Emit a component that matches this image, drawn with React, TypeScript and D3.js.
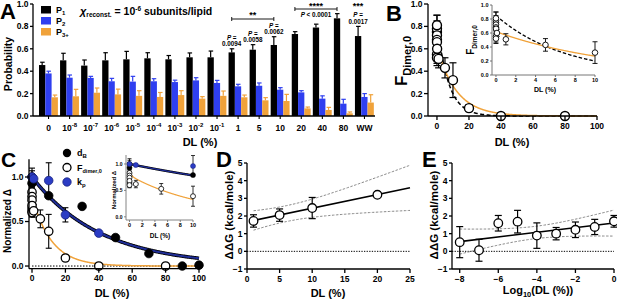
import React from "react";
import * as d3 from "d3";

const FONT = "'Liberation Sans', Arial, Helvetica, sans-serif";
const BLUE = "#2f3ff0";
const ORANGE = "#f0a23a";
const CBLUE = "#2b3cc4";
const NAVY = "#1f2d96";

// ---------------- Panel A data ----------------
const aCategories = ["0", "10^-8", "10^-7", "10^-6", "10^-5", "10^-4", "10^-3", "10^-2", "10^-1", "1", "5", "10", "20", "40", "80", "WW"];
const aP1 = [0.455, 0.497, 0.45, 0.497, 0.506, 0.515, 0.506, 0.524, 0.524, 0.568, 0.592, 0.634, 0.732, 0.79, 0.872, 0.714];
const aP1Err = [0.025, 0.063, 0.05, 0.068, 0.071, 0.05, 0.034, 0.039, 0.056, 0.032, 0.045, 0.074, 0.021, 0.03, 0.042, 0.086];
const aP2 = [0.38, 0.342, 0.34, 0.31, 0.307, 0.31, 0.303, 0.318, 0.295, 0.265, 0.27, 0.235, 0.211, 0.155, 0.11, 0.17];
const aP2Err = [0.02, 0.024, 0.014, 0.026, 0.047, 0.023, 0.017, 0.024, 0.023, 0.018, 0.025, 0.018, 0.015, 0.025, 0.039, 0.03];
const aP3 = [0.167, 0.176, 0.208, 0.193, 0.18, 0.17, 0.187, 0.155, 0.18, 0.167, 0.14, 0.134, 0.068, 0.054, 0.024, 0.12];
const aP3Err = [0.02, 0.062, 0.042, 0.047, 0.046, 0.04, 0.039, 0.018, 0.043, 0.02, 0.024, 0.059, 0.012, 0.023, 0.012, 0.07];
const aYTicks = [0, 0.2, 0.4, 0.6, 0.8, 1.0];
const aPValueCats = ["1", "5", "10"];
const aPValues = ["0.0094", "0.0058", "0.0062"];

// ---------------- Panel B data ----------------
const bDL = [0, 1e-8, 1e-7, 1e-6, 1e-5, 1e-4, 1e-3, 1e-2, 1e-1, 1, 5, 10, 20, 40, 80];
const bF = [0.75, 0.78, 0.81, 0.55, 0.52, 0.72, 0.68, 0.66, 0.6, 0.51, 0.43, 0.32, 0.07, 0.0, 0.0];
const bFErr = [0.1, 0.12, 0.09, 0.08, 0.07, 0.06, 0.05, 0.06, 0.05, 0.08, 0.09, 0.155, 0.03, 0, 0];
const bXTicks = [0, 20, 40, 60, 80, 100];
const bYTicks = [0, 0.2, 0.4, 0.6, 0.8, 1.0];
const bInsetXTicks = [0, 2, 4, 6, 8, 10];
const bSingleFit = { amp: 0.85, tau: 6.9 };
const bDoubleFit = { ampFast: 0.2, tauFast: 0.05, ampSlow: 0.62, tauSlow: 12 };

// ---------------- Panel C data ----------------
const cDbX = [0, 0, 0, 0, 10, 30, 50, 70, 90, 100];
const cDbY = [1.0, 0.93, 0.65, 0.62, 0.79, 0.67, 0.32, 0.14, 0.0, 0.01];
const cDbErr = [0.1, 0.1, 0.05, 0.06, 0, 0, 0, 0, 0, 0];
const cFX = [0, 0, 0, 0, 0, 1, 5, 10, 20, 40, 80];
const cFY = [0.83, 0.78, 0.74, 0.68, 0.6, 0.62, 0.53, 0.39, 0.09, 0.0, 0.0];
const cFErr = [0.05, 0.06, 0.05, 0.06, 0.05, 0.07, 0.1, 0.19, 0.03, 0, 0];
const cKpX = [0, 1, 10, 20, 40];
const cKpY = [1.0, 0.98, 0.96, 0.575, 0.37];
const cKpErr = [0.07, 0.03, 0.2, 0.08, 0.02];
const cXTicks = [0, 20, 40, 60, 80, 100];
const cYTicks = [0, 0.5, 1.0];
const cInsetXTicks = [0, 2, 4, 6, 8, 10];
const cBlueFit = { amp: 1.0, tau: 41 };
const cOrangeFit = { ampFast: 0.07, tauFast: 0.3, ampSlow: 0.785, tauSlow: 11.5 };

// ---------------- Panel D data ----------------
const dX = [1, 5, 10, 20];
const dY = [1.72, 2.05, 2.45, 3.2];
const dErr = [0.35, 0.35, 0.6, 0.05];
const dXTicks = [0, 5, 10, 15, 20, 25];
const dYTicks = [-1, 0, 1, 2, 3, 4, 5];
const dFit = { slope: 0.077, intercept: 1.67, xm: 6, a: 0.45, b: 0.063 };

// ---------------- Panel E data ----------------
const eX = [-8, -7, -6, -5, -4, -3, -2, -1, 0];
const eY = [0.52, 0.06, 1.59, 1.68, 0.89, 1.0, 1.22, 1.38, 1.7];
const eErr = [0.88, 0.62, 0.44, 0.64, 0.72, 0.35, 0.44, 0.43, 0.33];
const eXTicks = [-8, -6, -4, -2, 0];
const eYTicks = [-1, 0, 1, 2, 3, 4, 5];
const eFit = { slope: 0.131, intercept: 1.6, xm: -4.1, a: 0.35, b: 0.158 };

// ---------------- helpers ----------------
const sampleX = (x0: number, x1: number, n: number, pow = 1) =>
  d3.range(n + 1).map((i) => x0 + (x1 - x0) * Math.pow(i / n, pow));

function SupText({ label, fs, supFs }: { label: string; fs: number; supFs: number }) {
  if (label.includes("^")) {
    const [base, exp] = label.split("^");
    return (
      <>
        <tspan fontSize={fs}>{base}</tspan>
        <tspan fontSize={supFs} dy={-4}>{exp}</tspan>
      </>
    );
  }
  return <tspan fontSize={fs}>{label}</tspan>;
}

function YAxis({ scale, x, ticks, fmt, fs = 8.5, tl = 3, color = "#000", sw = 1.3, textColor = "#000" }: any) {
  const [r0, r1] = scale.range();
  return (
    <g>
      <line x1={x} x2={x} y1={r0} y2={r1} stroke={color} strokeWidth={sw} />
      {ticks.map((t: number) => (
        <g key={t}>
          <line x1={x - tl} x2={x} y1={scale(t)} y2={scale(t)} stroke={color} strokeWidth={sw} />
          <text x={x - tl - 1.5} y={scale(t)} dy="0.35em" textAnchor="end" fontSize={fs} fontWeight="bold" fill={textColor}>
            {fmt(t)}
          </text>
        </g>
      ))}
    </g>
  );
}

function XAxis({ scale, y, ticks, fmt, fs = 8.5, tl = 3, color = "#000", sw = 1.3, gap = 3, textColor = "#000" }: any) {
  const [r0, r1] = scale.range();
  return (
    <g>
      <line x1={r0} x2={r1} y1={y} y2={y} stroke={color} strokeWidth={sw} />
      {ticks.map((t: number) => (
        <g key={t}>
          <line x1={scale(t)} x2={scale(t)} y1={y} y2={y + tl} stroke={color} strokeWidth={sw} />
          <text x={scale(t)} y={y + tl + gap} dy="0.71em" textAnchor="middle" fontSize={fs} fontWeight="bold" fill={textColor}>
            {fmt(t)}
          </text>
        </g>
      ))}
    </g>
  );
}

function ErrBars({ xs, ys, errs, xS, yS, cap = 3, color = "#000", sw = 1 }: any) {
  return (
    <g>
      {xs.map((x: number, i: number) =>
        errs[i] > 0 ? (
          <g key={i} stroke={color} strokeWidth={sw}>
            <line x1={xS(x)} x2={xS(x)} y1={yS(ys[i] - errs[i])} y2={yS(ys[i] + errs[i])} />
            <line x1={xS(x) - cap} x2={xS(x) + cap} y1={yS(ys[i] + errs[i])} y2={yS(ys[i] + errs[i])} />
            <line x1={xS(x) - cap} x2={xS(x) + cap} y1={yS(ys[i] - errs[i])} y2={yS(ys[i] - errs[i])} />
          </g>
        ) : null
      )}
    </g>
  );
}

function Dots({ xs, ys, xS, yS, r, fill, stroke = "#000", sw = 1.2 }: any) {
  return (
    <g>
      {xs.map((x: number, i: number) => (
        <circle key={i} cx={xS(x)} cy={yS(ys[i])} r={r} fill={fill} stroke={stroke} strokeWidth={sw} />
      ))}
    </g>
  );
}

const f1 = d3.format(".1f");
const f0 = d3.format("d");

// ---------------- Panel A ----------------
function PanelA() {
  const x = d3.scaleBand<string>().domain(aCategories).range([38, 375]).padding(0);
  const y = d3.scaleLinear().domain([0, 1]).range([116, 4]);
  const bw = 6.3;
  const series = [
    { vals: aP1, errs: aP1Err, color: "#000" },
    { vals: aP2, errs: aP2Err, color: BLUE },
    { vals: aP3, errs: aP3Err, color: ORANGE },
  ];
  const barX = (c: string, k: number) => (x(c) as number) + 1 + k * bw;
  const cx = (c: string) => barX(c, 0) + bw / 2;
  return (
    <g>
      {series.map((s, k) =>
        aCategories.map((c, i) => (
          <g key={`${k}-${i}`}>
            <line x1={barX(c, k) + bw / 2} x2={barX(c, k) + bw / 2} y1={y(s.vals[i])} y2={y(s.vals[i] + s.errs[i])} stroke={s.color} strokeWidth={1.2} />
            <line x1={barX(c, k) + bw / 2 - 2} x2={barX(c, k) + bw / 2 + 2.5} y1={y(s.vals[i] + s.errs[i])} y2={y(s.vals[i] + s.errs[i])} stroke={s.color} strokeWidth={1.2} />
            <rect x={barX(c, k)} y={y(s.vals[i])} width={bw} height={y(0) - y(s.vals[i])} fill={s.color} />
          </g>
        ))
      )}
      <YAxis scale={y} x={33} ticks={aYTicks} fmt={f1} />
      <line x1={33} x2={375} y1={116} y2={116} stroke="#000" strokeWidth={1.3} />
      {aCategories.map((c) => (
        <g key={c}>
          <line x1={(x(c) as number) + x.bandwidth() / 2} x2={(x(c) as number) + x.bandwidth() / 2} y1={116} y2={119} stroke="#000" strokeWidth={1.1} />
          <text x={(x(c) as number) + x.bandwidth() / 2} y={131} textAnchor="middle" fontWeight="bold">
            <SupText label={c} fs={8.5} supFs={6} />
          </text>
        </g>
      ))}
      <text x={200} y={146} textAnchor="middle" fontSize={11} fontWeight="bold">DL (%)</text>
      <text transform="translate(12,64) rotate(-90)" textAnchor="middle" fontSize={10.5} fontWeight="bold">Probability</text>
      {/* legend */}
      {[
        { c: "#000", s: "1" },
        { c: BLUE, s: "2" },
        { c: ORANGE, s: "3+" },
      ].map((l, i) => (
        <g key={i}>
          <rect x={41} y={6 + i * 11} width={10} height={7.5} fill={l.c} />
          <text x={56} y={13 + i * 11} fontSize={9} fontWeight="bold">
            P<tspan fontSize={6} dy={2}>{l.s}</tspan>
          </text>
        </g>
      ))}
      <text x={80} y={15} fontWeight="bold">
        <tspan fontSize={11} fontStyle="italic">χ</tspan>
        <tspan fontSize={6.5} dy={2}>reconst.</tspan>
        <tspan fontSize={10.5} dy={-2}> = 10</tspan>
        <tspan fontSize={6.5} dy={-4}>-6</tspan>
        <tspan fontSize={10.5} dy={4}> subunits/lipid</tspan>
      </text>
      {/* P value annotations */}
      {aPValueCats.map((c, j) => {
        const i = aCategories.indexOf(c);
        const top = y(aP1[i] + aP1Err[i]);
        return (
          <g key={c} fontSize={6.3} fontWeight="bold" textAnchor="middle">
            <text x={cx(c)} y={top - 9}><tspan fontStyle="italic">P</tspan> =</text>
            <text x={cx(c)} y={top - 2.5}>{aPValues[j]}</text>
          </g>
        );
      })}
      {/* significance brackets */}
      <g stroke="#000" strokeWidth={0.9}>
        <line x1={cx("1")} x2={cx("10")} y1={19} y2={19} />
        <line x1={cx("1")} x2={cx("1")} y1={17} y2={21} />
        <line x1={cx("10")} x2={cx("10")} y1={17} y2={21} />
        <line x1={cx("20")} x2={cx("80")} y1={9} y2={9} />
        <line x1={cx("20")} x2={cx("20")} y1={7} y2={11} />
        <line x1={cx("80")} x2={cx("80")} y1={7} y2={11} />
      </g>
      <text x={(cx("1") + cx("10")) / 2} y={18} textAnchor="middle" fontSize={9} fontWeight="bold">**</text>
      <text x={(cx("20") + cx("80")) / 2} y={8.5} textAnchor="middle" fontSize={9} fontWeight="bold">****</text>
      <text x={(cx("20") + cx("80")) / 2} y={16.5} textAnchor="middle" fontSize={6.3} fontWeight="bold">
        <tspan fontStyle="italic">P</tspan> &lt; 0.0001
      </text>
      <text x={cx("WW")} y={9} textAnchor="middle" fontSize={9} fontWeight="bold">***</text>
      <text x={cx("WW")} y={16.5} textAnchor="middle" fontSize={6.3} fontWeight="bold"><tspan fontStyle="italic">P</tspan> =</text>
      <text x={cx("WW")} y={24} textAnchor="middle" fontSize={6.3} fontWeight="bold">0.0017</text>
      <text x={0} y={19} fontSize={22} fontWeight="bold">A</text>
    </g>
  );
}

// ---------------- Panel B ----------------
const single = (p: any) => (t: number) => p.amp * Math.exp(-t / p.tau);
const double = (p: any) => (t: number) => p.ampFast * Math.exp(-t / p.tauFast) + p.ampSlow * Math.exp(-t / p.tauSlow);

function PanelB() {
  const x = d3.scaleLinear().domain([-5.6, 100]).range([428, 597]);
  const y = d3.scaleLinear().domain([0, 1]).range([116, 4]);
  const sf = single(bSingleFit);
  const df = double(bDoubleFit);
  const xsMain = sampleX(0, 100, 400, 2);
  const line = (fn: any, xs: number[], xS: any, yS: any) => d3.line<number>().x((t) => xS(t)).y((t) => yS(fn(t)))(xs) as string;

  const xi = d3.scaleLinear().domain([-0.4, 10]).range([492, 595]);
  const yi = d3.scaleLinear().domain([0, 1]).range([75, 5]);
  const xsIn = sampleX(0, 10, 400, 2);
  const inIdx = bDL.map((d, i) => i).filter((i) => bDL[i] <= 10);
  return (
    <g>
      <path d={line(sf, xsMain, x, y)} fill="none" stroke="#000" strokeWidth={1.5} strokeDasharray="4,2.5" />
      <path d={line(df, xsMain, x, y)} fill="none" stroke={ORANGE} strokeWidth={1.5} />
      <ErrBars xs={bDL} ys={bF} errs={bFErr} xS={x} yS={y} cap={3.5} sw={1.2} />
      <Dots xs={bDL} ys={bF} xS={x} yS={y} r={4.5} fill="#fff" sw={1.4} />
      <YAxis scale={y} x={428} ticks={bYTicks} fmt={f1} tl={4} />
      <XAxis scale={x} y={116} ticks={bXTicks} fmt={f0} tl={4} />
      <text x={512} y={146} textAnchor="middle" fontSize={11} fontWeight="bold">DL (%)</text>
      <text transform="translate(407,61) rotate(-90)" textAnchor="middle" fontWeight="bold">
        <tspan fontSize={17}>F</tspan>
        <tspan fontSize={11} dy={4}>Dimer,0</tspan>
      </text>
      <text x={386} y={21} fontSize={22} fontWeight="bold">B</text>
      {/* inset */}
      <path d={line(sf, xsIn, xi, yi)} fill="none" stroke="#000" strokeWidth={1.3} strokeDasharray="3.5,2" />
      <path d={line(df, xsIn, xi, yi)} fill="none" stroke={ORANGE} strokeWidth={1.3} />
      <ErrBars xs={inIdx.map((i) => bDL[i])} ys={inIdx.map((i) => bF[i])} errs={inIdx.map((i) => bFErr[i])} xS={xi} yS={yi} cap={2.5} sw={0.9} />
      <Dots xs={inIdx.map((i) => bDL[i])} ys={inIdx.map((i) => bF[i])} xS={xi} yS={yi} r={2.8} fill="#fff" sw={0.9} />
      <YAxis scale={yi} x={492} ticks={bYTicks} fmt={f1} tl={2} fs={5.5} sw={0.9} color="#666" />
      <XAxis scale={xi} y={75} ticks={bInsetXTicks} fmt={f0} tl={2} fs={5.5} sw={0.9} gap={1.5} color="#666" />
      <text x={545} y={92} textAnchor="middle" fontSize={7} fontWeight="bold">DL (%)</text>
      <text transform="translate(474,40) rotate(-90)" textAnchor="middle" fontWeight="bold">
        <tspan fontSize={10}>F</tspan>
        <tspan fontSize={6.5} dy={2.5}>Dimer,0</tspan>
      </text>
    </g>
  );
}

// ---------------- Panel C ----------------
function PanelC() {
  const x = d3.scaleLinear().domain([-1.8, 100]).range([29, 199]);
  const y = d3.scaleLinear().domain([-0.03, 1.2]).range([268.7, 159.2]);
  const bf = single(cBlueFit);
  const of = double(cOrangeFit);
  const line = (fn: any, xs: number[], xS: any, yS: any) => d3.line<number>().x((t) => xS(t)).y((t) => yS(fn(t)))(xs) as string;
  const xsMain = sampleX(0, 100, 400, 2);

  const xi = d3.scaleLinear().domain([-0.55, 10]).range([126, 193]);
  const yi = d3.scaleLinear().domain([-0.06, 1.17]).range([220, 155]);
  const xsIn = sampleX(0, 10, 300, 2);
  const sub = (xs: number[], ys: number[], es: number[]) => {
    const idx = xs.map((_, i) => i).filter((i) => xs[i] <= 10);
    return { xs: idx.map((i) => xs[i]), ys: idx.map((i) => ys[i]), es: idx.map((i) => es[i]) };
  };
  const dbI = sub(cDbX, cDbY, cDbErr);
  const fI = sub(cFX, cFY, cFErr);
  const kI = sub(cKpX, cKpY, cKpErr);
  return (
    <g>
      <line x1={x(0)} x2={x(100)} y1={y(0)} y2={y(0)} stroke="#000" strokeWidth={1} strokeDasharray="1.5,1.5" />
      <path d={line(bf, xsMain, x, y)} fill="none" stroke="#000" strokeWidth={3.6} />
      <path d={line(bf, xsMain, x, y)} fill="none" stroke={NAVY} strokeWidth={2} />
      <path d={line(of, xsMain, x, y)} fill="none" stroke={ORANGE} strokeWidth={1.5} />
      <ErrBars xs={cDbX} ys={cDbY} errs={cDbErr} xS={x} yS={y} cap={3} sw={1.1} />
      <ErrBars xs={cFX} ys={cFY} errs={cFErr} xS={x} yS={y} cap={3} sw={1.1} />
      <ErrBars xs={cKpX} ys={cKpY} errs={cKpErr} xS={x} yS={y} cap={3} sw={1.1} />
      <Dots xs={cDbX} ys={cDbY} xS={x} yS={y} r={4.3} fill="#000" sw={0.8} />
      <Dots xs={cFX} ys={cFY} xS={x} yS={y} r={4.2} fill="#fff" sw={1.3} />
      <Dots xs={cKpX} ys={cKpY} xS={x} yS={y} r={4.3} fill={CBLUE} stroke="#1a2580" sw={0.8} />
      <YAxis scale={y} x={29} ticks={cYTicks} fmt={f1} tl={4} />
      <XAxis scale={x} y={268.7} ticks={cXTicks} fmt={f0} tl={4} gap={2.5} />
      <text x={112} y={297} textAnchor="middle" fontSize={11} fontWeight="bold">DL (%)</text>
      <text transform="translate(11,221) rotate(-90)" textAnchor="middle" fontSize={10} fontWeight="bold">Normalized Δ</text>
      <text x={1} y={167} fontSize={21} fontWeight="bold">C</text>
      {/* legend */}
      <circle cx={67} cy={153} r={4.2} fill="#000" />
      <circle cx={67} cy={167.5} r={4} fill="#fff" stroke="#000" strokeWidth={1.3} />
      <circle cx={67} cy={182} r={4.2} fill={CBLUE} stroke="#1a2580" strokeWidth={0.8} />
      <text x={77} y={156} fontSize={9} fontWeight="bold">d<tspan fontSize={6} dy={2}>B</tspan></text>
      <text x={77} y={170.5} fontSize={9} fontWeight="bold">F<tspan fontSize={5.5} dy={2}>dimer,0</tspan></text>
      <text x={77} y={185} fontSize={9} fontWeight="bold">k<tspan fontSize={6} dy={2}>p</tspan></text>
      {/* inset */}
      <path d={line(bf, xsIn, xi, yi)} fill="none" stroke="#000" strokeWidth={2.4} />
      <path d={line(bf, xsIn, xi, yi)} fill="none" stroke={NAVY} strokeWidth={1.3} />
      <path d={line(of, xsIn, xi, yi)} fill="none" stroke={ORANGE} strokeWidth={1.2} />
      <ErrBars xs={dbI.xs} ys={dbI.ys} errs={dbI.es} xS={xi} yS={yi} cap={2} sw={0.8} />
      <ErrBars xs={fI.xs} ys={fI.ys} errs={fI.es} xS={xi} yS={yi} cap={2} sw={0.8} />
      <ErrBars xs={kI.xs} ys={kI.ys} errs={kI.es} xS={xi} yS={yi} cap={2} sw={0.8} />
      <Dots xs={dbI.xs} ys={dbI.ys} xS={xi} yS={yi} r={2.5} fill="#000" sw={0.5} />
      <Dots xs={fI.xs} ys={fI.ys} xS={xi} yS={yi} r={2.5} fill="#fff" sw={0.8} />
      <Dots xs={kI.xs} ys={kI.ys} xS={xi} yS={yi} r={2.5} fill={CBLUE} stroke="#1a2580" sw={0.5} />
      <YAxis scale={yi} x={126} ticks={cYTicks} fmt={f1} tl={2} fs={5} sw={0.9} color="#777" />
      <XAxis scale={xi} y={220} ticks={cInsetXTicks} fmt={f0} tl={2} fs={5.5} sw={0.9} gap={1.5} color="#777" />
      <text x={160} y={238} textAnchor="middle" fontSize={6.5} fontWeight="bold">DL (%)</text>
      <text transform="translate(116,190) rotate(-90)" textAnchor="middle" fontSize={6} fontWeight="bold">Normalized Δ</text>
    </g>
  );
}

// ---------------- Panel D / E ----------------
function LinearPanel({ xs, ys, errs, xTicks, yTicks, fit, xDomain, xRange, fitX0, fitX1, bandX0, letter, letterX, ylabX, xlab, xlabX, xlabY }: any) {
  const x = d3.scaleLinear().domain(xDomain).range(xRange);
  const y = d3.scaleLinear().domain([-1, 5]).range([269, 163]);
  const fl = (t: number) => fit.intercept + fit.slope * t;
  const w = (t: number) => Math.sqrt(fit.a * fit.a + fit.b * fit.b * (t - fit.xm) * (t - fit.xm));
  const xsBand = sampleX(bandX0, fitX1, 100);
  const mk = (fn: (t: number) => number, arr: number[]) => d3.line<number>().x((t) => x(t)).y((t) => y(fn(t)))(arr) as string;
  return (
    <g>
      <line x1={xRange[0]} x2={x(fitX1)} y1={y(0)} y2={y(0)} stroke="#000" strokeWidth={1} strokeDasharray="1.3,1.3" />
      <path d={mk((t) => fl(t) + w(t), xsBand)} fill="none" stroke="#888" strokeWidth={1} strokeDasharray="2.5,1.5" />
      <path d={mk((t) => fl(t) - w(t), xsBand)} fill="none" stroke="#888" strokeWidth={1} strokeDasharray="2.5,1.5" />
      <path d={mk(fl, [fitX0, fitX1])} fill="none" stroke="#000" strokeWidth={1.6} />
      <ErrBars xs={xs} ys={ys} errs={errs} xS={x} yS={y} cap={3.5} sw={1.2} />
      <Dots xs={xs} ys={ys} xS={x} yS={y} r={4.3} fill="#fff" sw={1.3} />
      <YAxis scale={y} x={xRange[0]} ticks={yTicks} fmt={f0} tl={3} />
      <XAxis scale={x} y={269} ticks={xTicks} fmt={f0} tl={4} gap={2.5} />
      <text transform={`translate(${ylabX},215) rotate(-90)`} textAnchor="middle" fontSize={11.5} fontWeight="bold">ΔΔG (kcal/mole)</text>
      <text x={xlabX} y={xlabY} textAnchor="middle" fontSize={11} fontWeight="bold">{xlab}</text>
      <text x={letterX} y={167} fontSize={22} fontWeight="bold">{letter}</text>
    </g>
  );
}

export default function App() {
  return (
    <svg width={617} height={300} viewBox="0 0 617 300" style={{ position: "absolute", left: 0, top: 0, background: "#fff" }} fontFamily={FONT}>
      <rect width={617} height={300} fill="#fff" />
      <PanelA />
      <PanelB />
      <PanelC />
      <LinearPanel xs={dX} ys={dY} errs={dErr} xTicks={dXTicks} yTicks={dYTicks} fit={dFit} xDomain={[0, 25]} xRange={[247, 410]} fitX0={1} fitX1={25} bandX0={1} letter="D" letterX={216} ylabX={233} xlab="DL (%)" xlabX={328} xlabY={297} />
      <LinearPanel xs={eX} ys={eY} errs={eErr} xTicks={eXTicks} yTicks={eYTicks} fit={eFit} xDomain={[-8.4, 0]} xRange={[452, 614]} fitX0={-8} fitX1={0} bandX0={-8} letter="E" letterX={422} ylabX={438} xlab={<><tspan>Log</tspan><tspan fontSize={7.5} dy={2.5}>10</tspan><tspan dy={-2.5}>(DL (%))</tspan></>} xlabX={538} xlabY={294} />
    </svg>
  );
}
